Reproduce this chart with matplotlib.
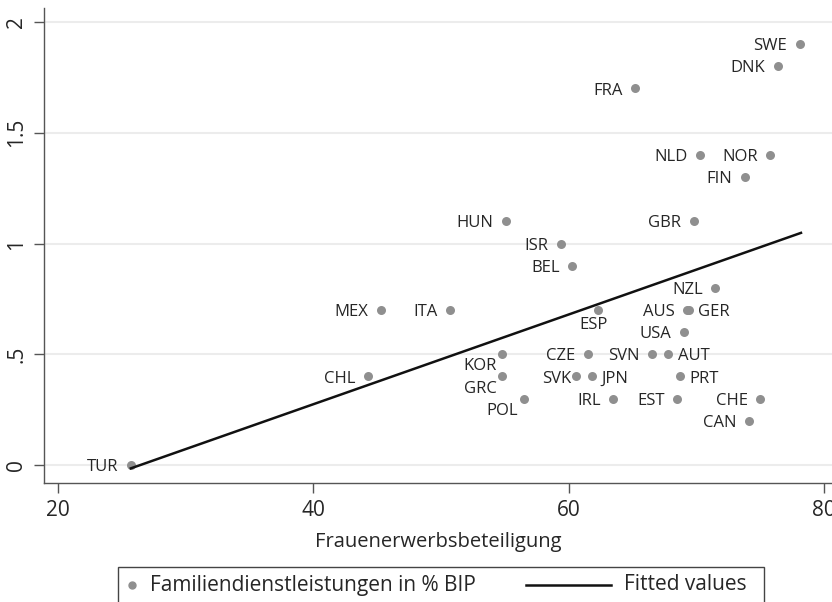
import matplotlib
matplotlib.use("Agg")
import matplotlib.pyplot as plt
from matplotlib.patches import Rectangle
from matplotlib.lines import Line2D

plt.rcParams['font.family'] = ['Open Sans', 'DejaVu Sans']

# data
countries = ["SWE", "DNK", "FRA", "NLD", "NOR", "FIN", "HUN", "GBR", "ISR", "BEL",
             "NZL", "MEX", "ITA", "ESP", "AUS", "GER", "USA", "KOR", "CZE", "SVN",
             "AUT", "CHL", "GRC", "SVK", "JPN", "PRT", "POL", "IRL", "EST", "CHE",
             "CAN", "TUR"]
frauen = [78.1, 76.4, 65.2, 70.3, 75.8, 73.8, 55.1, 69.8, 59.4, 60.3,
          71.5, 45.3, 50.7, 62.3, 69.3, 69.4, 69.0, 54.8, 61.5, 66.5,
          67.8, 44.3, 54.8, 60.6, 61.8, 68.7, 56.5, 63.5, 68.5, 75.0,
          74.1, 25.7]
familie = [1.9, 1.8, 1.7, 1.4, 1.4, 1.3, 1.1, 1.1, 1.0, 0.9,
           0.8, 0.7, 0.7, 0.7, 0.7, 0.7, 0.6, 0.5, 0.5, 0.5,
           0.5, 0.4, 0.4, 0.4, 0.4, 0.4, 0.3, 0.3, 0.3, 0.3,
           0.2, 0.0]
# label position (clock style) per country, default left
label_pos = {"ESP": "b", "GER": "r", "AUT": "r", "PRT": "r", "JPN": "r",
             "KOR": "bl", "GRC": "bl", "POL": "bl", "SVK": "lc"}

# fitted line end points
fit_x = [25.7, 78.2]
fit_y = [-0.015, 1.048]

yticks = [0, 0.5, 1, 1.5, 2]
ytick_labels = ["0", ".5", "1", "1.5", "2"]
xticks = [20, 40, 60, 80]

W, H = 832, 602
fig = plt.figure(figsize=(W / 100, H / 100), dpi=100)
ax = fig.add_axes([44 / W, (H - 483) / H, 1 - 44 / W, (483 - 8) / H])

grey = "#8f8f8f"
txt = "#262626"
ax.scatter(frauen, familie, s=42, color=grey, zorder=3, linewidths=0)
ax.plot(fit_x, fit_y, color="#111111", lw=1.8, zorder=4)

offsets = {"l": (-9, -1.5, "right", "center"),
           "lc": (-3.5, -1.5, "right", "center"),
           "r": (7, -1.5, "left", "center"),
           "b": (-3, -5, "center", "top"),
           "bl": (-4, -3, "right", "top")}
for c, x, y in zip(countries, frauen, familie):
    dx, dy, ha, va = offsets[label_pos.get(c, "l")]
    ax.annotate(c, (x, y), xytext=(dx, dy), textcoords="offset points",
                ha=ha, va=va, fontsize=12, color=txt, zorder=5)

ax.set_xlim(18.9, 80.63)
ax.set_ylim(-0.081, 2.063)
ax.set_yticks(yticks)
ax.set_yticklabels(ytick_labels, rotation=90, va="center")
ax.set_xticks(xticks)
ax.tick_params(axis="both", labelsize=15, length=7, width=1, color="#555555",
               labelcolor=txt, pad=5)
ax.grid(axis="y", color="#ececec", lw=1.5)
ax.set_axisbelow(True)
for s in ["top", "right"]:
    ax.spines[s].set_visible(False)
for s in ["left", "bottom"]:
    ax.spines[s].set_color("#555555")
    ax.spines[s].set_linewidth(1)
ax.set_xlabel("Frauenerwerbsbeteiligung", fontsize=14.5, color=txt, labelpad=8)

# legend box (drawn by hand, cut off at the bottom like the original)
fig.patches.append(Rectangle((118 / W, -0.01), (764 - 118) / W, (H - 567) / H + 0.01,
                             transform=fig.transFigure, fill=False,
                             edgecolor="#444444", lw=1))
fig.lines.append(Line2D([132 / W], [(H - 585) / H], marker="o", markersize=5,
                        color=grey, transform=fig.transFigure, linestyle="none"))
fig.text(150 / W, (H - 585) / H, "Familiendienstleistungen in % BIP",
         fontsize=15, va="center", ha="left", color=txt)
fig.lines.append(Line2D([526 / W, 611 / W], [(H - 585) / H] * 2, color="#111111",
                        lw=1.8, transform=fig.transFigure))
fig.text(624 / W, (H - 585) / H, "Fitted values", fontsize=15, va="center",
         ha="left", color=txt)

fig.savefig("out.png", dpi=100)
